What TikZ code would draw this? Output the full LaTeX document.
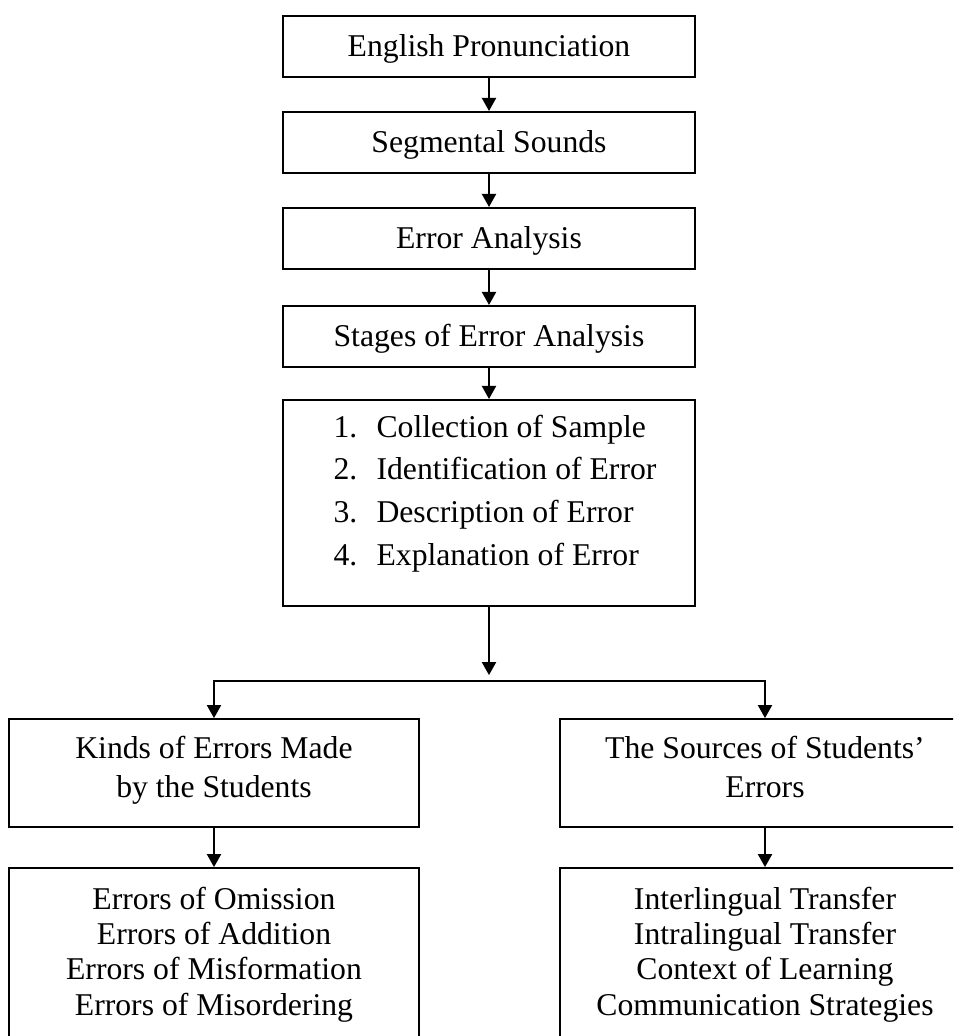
\documentclass[tikz,border=0pt]{standalone}
\usepackage{fontspec}
\setmainfont{Liberation Serif}
\usetikzlibrary{arrows.meta,positioning}

\newcommand{\stageitem}[2]{\hspace*{6pt}\makebox[21.5pt][l]{#1}#2}

\begin{document}
\begin{tikzpicture}[
  font=\fontsize{15.85pt}{19.5pt}\selectfont,
  node distance=16.5pt,
  line width=1pt,
  box/.style={draw, minimum width=206pt, inner xsep=4pt, inner ysep=0pt,
              align=center, text height=20.5pt, text depth=10pt},
  stagebox/.style={box, align=left, text height=82.55pt, text depth=20.5pt,
                   font=\fontsize{15.85pt}{21.35pt}\selectfont},
  twobox/.style={box, minimum width=205pt, text height=39pt, text depth=15pt},
  listbox/.style={box, minimum width=205pt, text height=73.45pt, text depth=20pt,
                  font=\fontsize{15.85pt}{17.65pt}\selectfont},
  arr/.style={-{Triangle[length=6.5pt, width=7pt]}}
]
\path[use as bounding box, clip] (-244.5pt,23.25pt) rectangle (232pt,-494.75pt);

% ---------- main chain ----------
\node[box] (pron) at (0,0) {English Pronunciation};
\node[box, below=of pron] (seg) {Segmental Sounds};
\node[box, below=of seg] (anal) {Error Analysis};
\node[box, below=17.5pt of anal] (stages) {Stages of Error Analysis};
\node[stagebox, below=15.5pt of stages] (steps) {\stageitem{1.}{Collection of Sample}\\
  \stageitem{2.}{Identification of Error}\\
  \stageitem{3.}{Description of Error}\\
  \stageitem{4.}{Explanation of Error}};
\draw[arr] (pron)--(seg); \draw[arr] (seg)--(anal); \draw[arr] (anal)--(stages);
\draw[arr] (stages)--(steps);

% ---------- split ----------
\coordinate[below=37pt of steps] (split);
\draw[arr, shorten >=3pt] (steps)--(split);

% ---------- left: kinds ----------
\node[twobox, below=55.5pt of steps, xshift=-137.5pt] (kinds) {Kinds of Errors Made\\by the Students};
\node[listbox, below=19.5pt of kinds] (kindlist) {Errors of Omission\\Errors of Addition\\
  Errors of Misformation\\Errors of Misordering};
\draw[arr] (split) -| (kinds); \draw[arr] (kinds)--(kindlist);

% ---------- right: sources ----------
\node[twobox, below=55.5pt of steps, xshift=138pt] (sources) {The Sources of Students'\\Errors};
\node[listbox, below=19.5pt of sources] (sourcelist) {Interlingual Transfer\\Intralingual Transfer\\
  Context of Learning\\Communication Strategies};
\draw[arr] (split) -| (sources); \draw[arr] (sources)--(sourcelist);

\end{tikzpicture}
\end{document}
